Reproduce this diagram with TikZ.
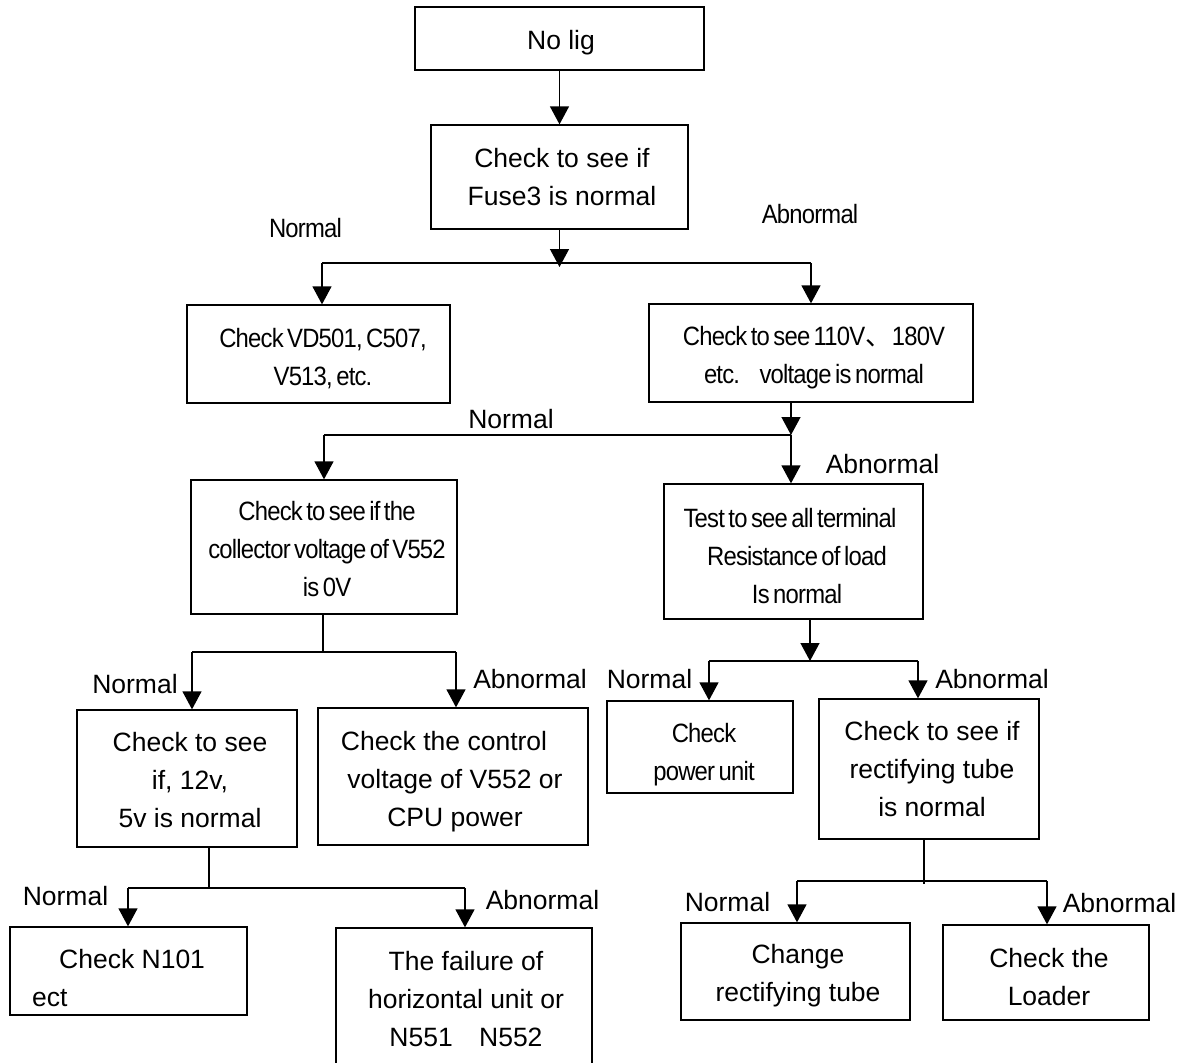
\documentclass[tikz,border=0pt]{standalone}
\usepackage{fontspec}
\setmainfont{Liberation Sans}
\newfontfamily\cond{Liberation Sans}[FakeStretch=0.9,LetterSpace=-3,WordSpace=0.6]
\newfontfamily\cjk{Noto Sans CJK SC}
\usetikzlibrary{arrows.meta}
\newcommand\sr{\rule[-6pt]{0pt}{26pt}}
\begin{document}
\begin{tikzpicture}[x=1pt,y=-1pt,
  ln/.style={line width=1.3pt},
  arr/.style={ln,-{Triangle[length=18pt,width=19pt]}},
  box/.style={draw,line width=1.3pt,inner sep=0pt,minimum width=#1},
  txt/.style={font=\fontsize{26.5}{38}\selectfont,align=center,inner sep=0pt},
  ctxt/.style={font=\cond\fontsize{26.5}{38}\selectfont,align=center,inner sep=0pt},
  lab/.style={font=\fontsize{26.5}{38}\selectfont,anchor=base,inner sep=0pt},
  clab/.style={font=\cond\fontsize{26.5}{38}\selectfont,anchor=base,inner sep=0pt}]
\useasboundingbox (0,0) rectangle (1181,1063);
\clip (0,0) rectangle (1181,1063);
% boxes
\node[box=289pt,minimum height=63pt] (A) at (559.5,38.5) {};
\node[box=257pt,minimum height=104pt] (B) at (559.5,177) {};
\node[box=263pt,minimum height=98pt] (C) at (318.5,354) {};
\node[box=324pt,minimum height=98pt] (D) at (811,353) {};
\node[box=266pt,minimum height=134pt] (E) at (324,547) {};
\node[box=259pt,minimum height=135pt] (F) at (793.5,551.5) {};
\node[box=220pt,minimum height=137pt] (G) at (187,778.5) {};
\node[box=270pt,minimum height=137pt] (H) at (453,776.5) {};
\node[box=186pt,minimum height=92pt] (I) at (700,747) {};
\node[box=220pt,minimum height=140pt] (J) at (929,769) {};
\node[box=237pt,minimum height=88pt] (K) at (128.5,971) {};
\node[box=256pt,minimum height=152pt] (L) at (464,1004) {};
\node[box=229pt,minimum height=97pt] (M) at (795.5,971.5) {};
\node[box=206pt,minimum height=95pt] (N) at (1046,972.5) {};
% texts
\node[txt] (At) at (561,42) {\sr No lig};
\node[txt] (Bt) at (562,179) {\sr Check to see if\\Fuse3 is normal\sr};
\node[ctxt] (Ct) at (323,359) {\sr Check VD501, C507,\\V513, etc.\sr};
\node[ctxt] (Dt) at (814,357) {\sr Check to see 110V{\cjk 、}180V\\etc.\hspace{14pt} voltage is normal\sr};
\node[ctxt] (Et) at (327,551) {\sr Check to see if the\\collector voltage of V552\\is 0V\sr};
\node[ctxt] (Ft) at (797,558) {\sr Test to see all terminal\hspace{14pt}\mbox{}\\Resistance of load\\Is normal\sr};
\node[txt] (Gt) at (190,782) {\sr Check to see\\if, 12v,\\5v is normal\sr};
\node[txt] (Ht) at (455,781) {\sr Check the control\hspace{22pt}\mbox{}\\voltage of V552 or\\CPU power\sr};
\node[ctxt] (It) at (704,754) {\sr Check\\power unit\sr};
\node[txt] (Jt) at (932,771) {\sr Check to see if\\rectifying tube\\is normal\sr};
\node[txt,align=left,anchor=west] (Kt) at (32,980) {\sr\kern27pt Check N101\\ect\sr};
\node[txt] (Lt) at (466,1001) {\sr The failure of\\horizontal unit or\\N551\hspace{19pt} N552\sr};
\node[txt] (Mt) at (798,975) {\sr Change\\rectifying tube\sr};
\node[txt] (Nt) at (1049,979) {\sr Check the\\Loader\sr};
% labels
\node[clab] (l1) at (305.5,237) {Normal};
\node[clab] (l2) at (810,223) {Abnormal};
\node[lab] (l3) at (511,428) {Normal};
\node[lab] (l4) at (882.5,473) {Abnormal};
\node[lab] (l5) at (135,693) {Normal};
\node[lab] (l6) at (530,688) {Abnormal};
\node[lab] (l7) at (649.5,688) {Normal};
\node[lab] (l8) at (992,688) {Abnormal};
\node[lab] (l9) at (65.5,905) {Normal};
\node[lab] (l10) at (542.5,909) {Abnormal};
\node[lab] (l11) at (727.5,911) {Normal};
\node[lab] (l12) at (1119.5,912) {Abnormal};
% junctions
\coordinate (j1) at (559.5,263);
\coordinate (j1L) at (322,263);
\coordinate (j1R) at (811,263);
\coordinate (j2) at (791,435);
\coordinate (j2L) at (324,435);
\coordinate (j3) at (323,652);
\coordinate (j3L) at (192,652);
\coordinate (j3R) at (456,652);
\coordinate (j4) at (810,661);
\coordinate (j4L) at (709,661);
\coordinate (j4R) at (918,661);
\coordinate (j5) at (209,888);
\coordinate (j5L) at (128,888);
\coordinate (j5R) at (465,888);
\coordinate (j6) at (924,881);
\coordinate (j6L) at (797,881);
\coordinate (j6R) at (1047,881);
% connectors
\draw[arr] (A) -- (B);
\draw[arr] (B.south) -- ([yshift=-4pt]j1);
\draw[ln] (j1L) -- (j1R);
\draw[arr] (j1L) -- (j1L |- C.north);
\draw[arr] (j1R) -- (j1R |- D.north);
\draw[arr] (j2 |- D.south) -- (j2);
\draw[ln] (j2L) -- (j2);
\draw[arr] (j2) -- (j2 |- F.north);
\draw[arr] (j2L) -- (j2L |- E.north);
\draw[ln] (j3 |- E.south) -- (j3);
\draw[ln] (j3L) -- (j3R);
\draw[arr] (j3L) -- (j3L |- G.north);
\draw[arr] (j3R) -- (j3R |- H.north);
\draw[arr] (j4 |- F.south) -- (j4);
\draw[ln] (j4L) -- (j4R);
\draw[arr] (j4L) -- (j4L |- I.north);
\draw[arr] (j4R) -- (j4R |- J.north);
\draw[ln] (j5 |- G.south) -- (j5);
\draw[ln] (j5L) -- (j5R);
\draw[arr] (j5L) -- (j5L |- K.north);
\draw[arr] (j5R) -- (j5R |- L.north);
\draw[ln] (j6 |- J.south) -- ([yshift=-3pt]j6);
\draw[ln] (j6L) -- (j6R);
\draw[arr] (j6L) -- (j6L |- M.north);
\draw[arr] (j6R) -- (j6R |- N.north);
\end{tikzpicture}
\end{document}
